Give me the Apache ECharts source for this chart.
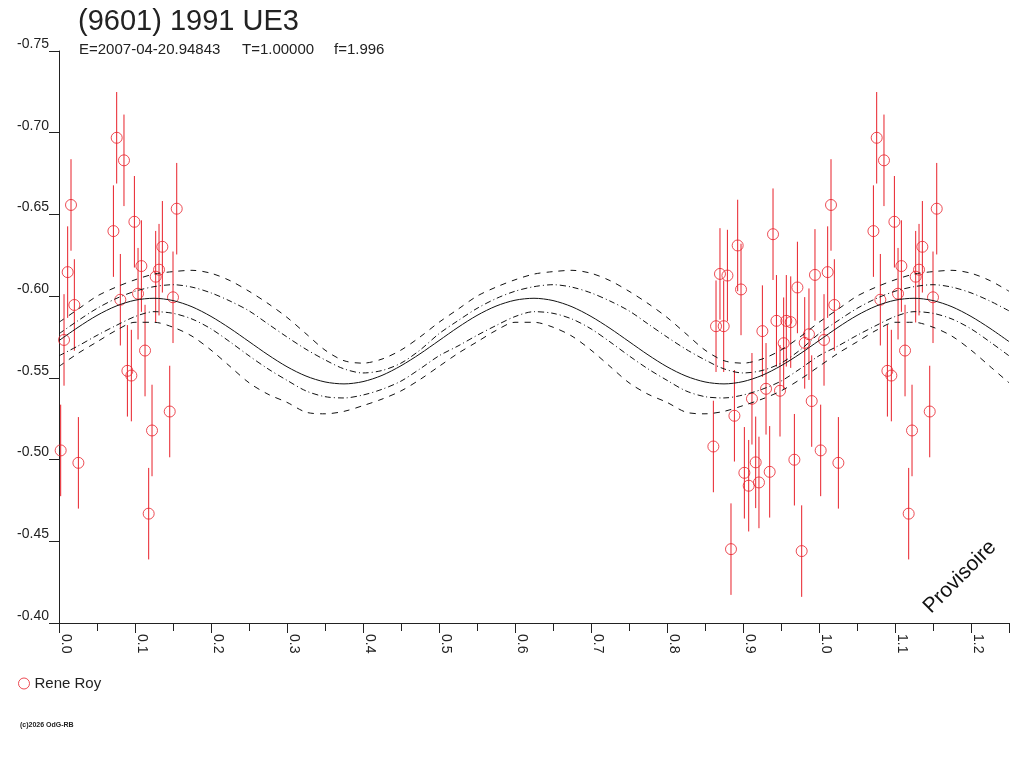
<!DOCTYPE html>
<html>
<head>
<meta charset="utf-8">
<title>(9601) 1991 UE3</title>
<script src="https://cdn.jsdelivr.net/npm/echarts@6.0.0/dist/echarts.min.js"></script>
<style>
  html, body { margin: 0; padding: 0; background: #fff; }
  #main { width: 1024px; height: 768px; }
</style>
</head>
<body>
<div id="main"></div>
<script>
var FONT = 'Liberation Sans, Arial, sans-serif';
var RED = '#e8202a';
var INK = '#222';

// phase / magnitude of the measurements (Rene Roy)
var phase = [0.0022, 0.0066, 0.0114, 0.0158, 0.0202, 0.0255, 0.0716, 0.0759, 0.0807, 0.0855,
    0.0900, 0.0952, 0.0992, 0.1040, 0.1084, 0.1132, 0.1180, 0.1224, 0.1272, 0.1316,
    0.1360, 0.1457, 0.1500, 0.1549,
    0.8610, 0.8645, 0.8697, 0.8746, 0.8795, 0.8842, 0.8887, 0.8930, 0.8974, 0.9018,
    0.9075, 0.9118, 0.9167, 0.9210, 0.9255, 0.9303, 0.9351, 0.9395, 0.9440, 0.9487,
    0.9535, 0.9570, 0.9628, 0.9676, 0.9716, 0.9772, 0.9812, 0.9868, 0.9904, 0.9947]
var mag = [-0.5056, -0.5732, -0.6147, -0.6558, -0.5946, -0.4980, -0.6398, -0.6969, -0.5978, -0.6831,
    -0.5543, -0.5514, -0.6455, -0.6015, -0.6184, -0.5667, -0.4669, -0.5178, -0.6119, -0.6162,
    -0.6302, -0.5294, -0.5993, -0.6535,
    -0.5080, -0.5816, -0.6136, -0.5816, -0.6126, -0.4452, -0.5268, -0.6310, -0.6041, -0.4919,
    -0.4840, -0.5372, -0.4983, -0.4860, -0.5786, -0.5433, -0.4925, -0.6379, -0.5849, -0.5421,
    -0.5712, -0.5849, -0.5841, -0.4999, -0.6053, -0.4440, -0.5714, -0.5767, -0.5358, -0.6130]
var sigma = 0.028

// model and envelopes, one cycle (phase 0 .. 0.475, step 0.025); the curve repeats every 0.5
var cycleX = [0, 0.025, 0.05, 0.075, 0.1, 0.125, 0.15, 0.175, 0.2, 0.225,
    0.25, 0.275, 0.3, 0.325, 0.35, 0.375, 0.4, 0.425, 0.45, 0.475]
var fitMid = [-0.5728, -0.5809, -0.5882, -0.5939, -0.5975, -0.5987, -0.5973, -0.5935, -0.5876, -0.5803,
    -0.5722, -0.5641, -0.5568, -0.5511, -0.5475, -0.5463, -0.5477, -0.5515, -0.5574, -0.5647]
var fitHi2 = [-0.584, -0.592, -0.600, -0.6055, -0.610, -0.6135, -0.615, -0.6158, -0.614, -0.6095,
    -0.603, -0.5955, -0.587, -0.577, -0.567, -0.5605, -0.559, -0.5615, -0.567, -0.575]
var fitHi1 = [-0.577, -0.585, -0.5925, -0.5985, -0.603, -0.6058, -0.607, -0.6055, -0.602, -0.597,
    -0.591, -0.583, -0.575, -0.5675, -0.561, -0.5555, -0.553, -0.5545, -0.559, -0.567]
var fitLo1 = [-0.5635, -0.5695, -0.576, -0.582, -0.5875, -0.5905, -0.5895, -0.586, -0.580, -0.572,
    -0.5635, -0.5555, -0.5485, -0.542, -0.5385, -0.5377, -0.5395, -0.543, -0.548, -0.5555]
var fitLo2 = [-0.557, -0.565, -0.572, -0.579, -0.584, -0.584, -0.581, -0.5755, -0.567, -0.557,
    -0.547, -0.540, -0.535, -0.529, -0.528, -0.5295, -0.533, -0.537, -0.542, -0.549]
var cycle = 0.5

var xMin = 0, xMax = 1.25

// lay the cycle end to end across the whole axis
function repeatCycle(ys) {
    var out = []
    for (var k = 0; k * cycle <= xMax; k++) {
        for (var i = 0; i < cycleX.length; i++) {
            var x = cycleX[i] + k * cycle
            if (x <= xMax + 1e-9) out.push([x, ys[i]])
        }
    }
    return out
}

// phase plot: a point is drawn again one cycle later while it stays on the axis
var points = []
for (var i = 0; i < phase.length; i++) {
    points.push([phase[i], mag[i], sigma])
    if (phase[i] + 1 <= xMax) points.push([phase[i] + 1, mag[i], sigma])
}

function curve(ys, type) {
    return {
        type: 'line',
        data: repeatCycle(ys),
        smooth: 0.3,
        symbol: 'none',
        silent: true,
        lineStyle: { color: '#111', width: 1, type: type }
    }
}

var myChart = echarts.init(document.getElementById('main'));

var option = {
    animation: false,
    backgroundColor: '#fff',
    textStyle: { fontFamily: FONT },
    title: {
        text: '(9601) 1991 UE3',
        left: 78,
        top: 7,
        padding: 0,
        textStyle: { fontFamily: FONT, fontSize: 29, fontWeight: 'normal', color: INK }
    },
    legend: {
        data: [{ name: 'Rene Roy', icon: 'circle' }],
        left: 18,
        top: 676,
        padding: 0,
        itemWidth: 11,
        itemHeight: 11,
        itemGap: 5,
        itemStyle: { color: 'rgba(0,0,0,0)', borderColor: RED, borderWidth: 1 },
        textStyle: { fontFamily: FONT, fontSize: 15, color: INK }
    },
    grid: { left: 59, right: 15, top: 51, bottom: 145, containLabel: false },
    xAxis: [
        {
            type: 'value',
            position: 'bottom',
            min: xMin,
            max: xMax,
            interval: 0.1,
            axisLine: { lineStyle: { color: INK, width: 1 } },
            axisTick: { length: 10, lineStyle: { color: INK } },
            splitLine: { show: false },
            axisLabel: {
                rotate: -90,
                margin: 11,
                verticalAlign: 'bottom',
                color: INK,
                fontFamily: FONT,
                fontSize: 14,
                formatter: function (v) {
                    var r = Math.round(v * 10)
                    if (Math.abs(v * 10 - r) > 1e-6) return ''
                    return (r / 10).toFixed(1)
                }
            }
        },
        {
            // half-step ticks
            type: 'value',
            position: 'bottom',
            min: xMin,
            max: xMax,
            interval: 0.05,
            axisLine: { show: false },
            axisTick: { length: 8, lineStyle: { color: INK } },
            axisLabel: { show: false },
            splitLine: { show: false }
        }
    ],
    yAxis: {
        type: 'value',
        inverse: true,
        min: -0.75,
        max: -0.40,
        interval: 0.05,
        axisLine: { show: true, lineStyle: { color: INK, width: 1 } },
        axisTick: { show: true, length: 10, lineStyle: { color: INK } },
        splitLine: { show: false },
        axisLabel: {
            margin: 10,
            verticalAlign: 'bottom',
            color: INK,
            fontFamily: FONT,
            fontSize: 14,
            formatter: function (v) { return v.toFixed(2) }
        }
    },
    series: [
        curve(fitHi2, [6, 6]),
        curve(fitHi1, [6, 3, 1, 3]),
        curve(fitMid, 'solid'),
        curve(fitLo1, [6, 3, 1, 3]),
        curve(fitLo2, [6, 6]),
        {
            // error bars
            type: 'custom',
            data: points,
            silent: true,
            renderItem: function (params, api) {
                var x = api.value(0), y = api.value(1), e = api.value(2)
                var a = api.coord([x, y - e])
                var b = api.coord([x, y + e])
                return {
                    type: 'line',
                    shape: { x1: a[0], y1: a[1], x2: b[0], y2: b[1] },
                    style: { stroke: RED, lineWidth: 1 }
                }
            }
        },
        {
            name: 'Rene Roy',
            type: 'scatter',
            data: points,
            symbol: 'circle',
            symbolSize: 11,
            silent: true,
            itemStyle: { color: 'rgba(0,0,0,0)', borderColor: RED, borderWidth: 1 }
        }
    ],
    graphic: [
        {
            type: 'text', left: 79, top: 42,
            style: { text: 'E=2007-04-20.94843', font: '15px ' + FONT, fill: INK }
        },
        {
            type: 'text', left: 242, top: 42,
            style: { text: 'T=1.00000', font: '15px ' + FONT, fill: INK }
        },
        {
            type: 'text', left: 334, top: 42,
            style: { text: 'f=1.996', font: '15px ' + FONT, fill: INK }
        },
        {
            type: 'text', left: 20, top: 722,
            style: { text: '(c)2026 OdG-RB', font: 'bold 7px ' + FONT, fill: INK }
        },
        {
            type: 'text',
            x: 960, y: 577,
            rotation: Math.PI / 4,
            style: {
                text: 'Provisoire', font: '21px ' + FONT, fill: '#111',
                align: 'center', verticalAlign: 'middle',
                textAlign: 'center', textVerticalAlign: 'middle'
            }
        }
    ]
};

myChart.setOption(option);
</script>
</body>
</html>
